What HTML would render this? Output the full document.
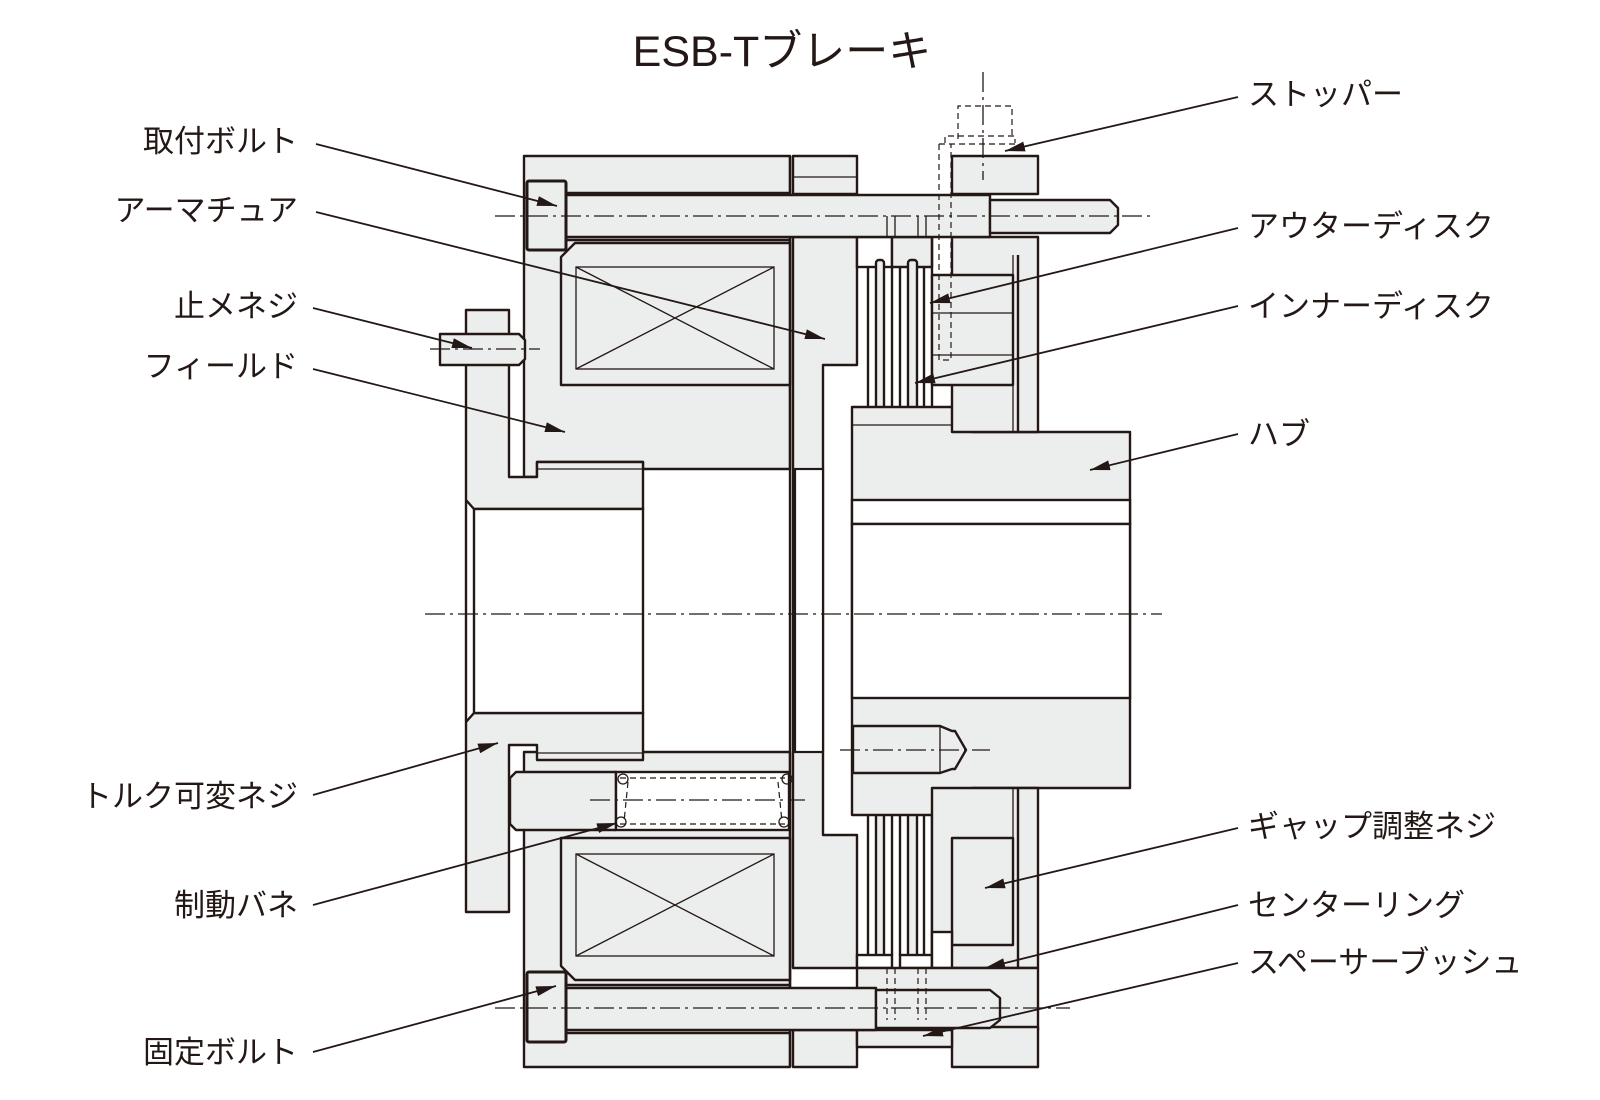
<!DOCTYPE html>
<html><head><meta charset="utf-8"><style>
html,body{margin:0;padding:0;background:#fff}
svg{display:block}
text{font-family:"Liberation Sans","Noto Sans CJK JP",sans-serif;fill:#231815}
.g{fill:#eceeed;stroke:#231815;stroke-width:2.4;stroke-linejoin:round}
.w{fill:#fff;stroke:#231815;stroke-width:2.4}
.t{fill:none;stroke:#231815;stroke-width:1.3}
.k{fill:none;stroke:#231815;stroke-width:2.4}
.c{fill:none;stroke:#231815;stroke-width:1.3;stroke-dasharray:20,5,3,5}
.d{fill:none;stroke:#231815;stroke-width:1.2;stroke-dasharray:6,4}
.l{fill:none;stroke:#231815;stroke-width:1.8}
</style></head><body>
<svg width="1600" height="1100" viewBox="0 0 1600 1100" xmlns="http://www.w3.org/2000/svg">
<defs><marker id="a" viewBox="0 0 20 10" refX="20" refY="5" markerWidth="20" markerHeight="10" markerUnits="userSpaceOnUse" orient="auto"><path d="M0,0L20,5L0,10z" fill="#231815"/></marker></defs>

<text x="782" y="66" font-size="43" text-anchor="middle">ESB-Tブレーキ</text>

<!-- field top -->
<polygon class="g" points="524,156 790,156 790,469 643,469 643,462 537,462 537,477 524,477"/>
<line class="k" x1="566" y1="193" x2="790" y2="193"/>
<line class="k" x1="566" y1="240" x2="790" y2="240"/>
<polygon class="g" points="575,243 790,243 790,385 561,385 561,257"/>
<rect class="t" x="576" y="267" width="198" height="102"/>
<line class="t" x1="576" y1="267" x2="774" y2="369"/><line class="t" x1="576" y1="369" x2="774" y2="267"/>
<!-- field bottom -->
<polygon class="g" points="524,752 790,752 790,1067 524,1067"/>
<line class="k" x1="566" y1="985" x2="790" y2="985"/>
<line class="k" x1="566" y1="1033" x2="790" y2="1033"/>
<polygon class="g" points="561,838 790,838 790,980 575,980 561,966"/>
<rect class="t" x="576" y="854" width="198" height="102"/>
<line class="t" x1="576" y1="854" x2="774" y2="956"/><line class="t" x1="576" y1="956" x2="774" y2="854"/>

<!-- torque plate -->
<polygon class="g" points="466,310 509,310 509,477 537,477 537,462 643,462 643,509 474,509 466,500 466,722 474,713 643,713 643,760 537,760 537,745 509,745 509,912 466,912"/>
<rect x="474" y="509" width="169" height="204" fill="#fff" stroke="#231815" stroke-width="2.4"/>
<line class="t" x1="537" y1="469" x2="643" y2="469"/>
<line class="t" x1="537" y1="753" x2="643" y2="753"/>
<!-- set screw -->
<path class="g" d="M440,334 H519 L525,340 V359 L519,365 H440 Z"/>
<!-- torque screw -->
<path class="g" d="M516,772 H616 V830 H516 L510,824 V778 Z"/>
<!-- spring -->
<rect class="w" x="616" y="772" width="173" height="58"/>
<line class="d" x1="620" y1="778" x2="785" y2="778"/><line class="d" x1="620" y1="824" x2="785" y2="824"/>
<line class="d" x1="628" y1="782" x2="624" y2="822"/><line class="d" x1="778" y1="782" x2="782" y2="822"/>
<circle class="t" cx="623" cy="779" r="5"/><circle class="t" cx="621" cy="822" r="5"/>
<circle class="t" cx="787" cy="779" r="5"/><circle class="t" cx="784" cy="822" r="5"/>

<!-- armature -->
<rect class="g" x="793" y="156" width="64" height="38"/>
<line class="t" x1="793" y1="177" x2="857" y2="177"/>
<polygon class="g" points="793,237 857,237 857,365 823,365 823,835 857,835 857,968 793,968"/>
<rect x="795" y="469" width="28" height="283" fill="#fff" stroke="#231815" stroke-width="2.2"/>
<line class="k" x1="790" y1="156" x2="790" y2="1067"/>
<rect class="g" x="793" y="1030" width="64" height="37"/>

<!-- discs top -->
<rect class="w" x="857" y="237" width="35" height="30"/>
<rect class="g" x="892" y="237" width="40" height="30"/>
<g class="k">
<line x1="868" y1="267" x2="868" y2="407"/><line x1="892" y1="267" x2="892" y2="407"/>
<line x1="900" y1="267" x2="900" y2="407"/><line x1="924" y1="267" x2="924" y2="407"/>
<line x1="932" y1="237" x2="932" y2="407"/>
</g>
<rect class="g" x="876" y="260" width="8" height="163" rx="3"/>
<rect class="g" x="908" y="260" width="9" height="163" rx="3"/>
<!-- discs bottom -->
<g class="k">
<line x1="868" y1="815" x2="868" y2="955"/><line x1="892" y1="815" x2="892" y2="955"/>
<line x1="900" y1="815" x2="900" y2="955"/><line x1="924" y1="815" x2="924" y2="955"/>
<line x1="932" y1="790" x2="932" y2="968"/>
</g>
<rect class="g" x="876" y="800" width="8" height="160" rx="3"/>
<rect class="g" x="908" y="800" width="9" height="160" rx="3"/>
<rect class="w" x="857" y="955" width="35" height="13"/><rect class="w" x="900" y="955" width="32" height="13"/>

<!-- hub -->
<polygon class="g" points="852,407 972,407 972,432 1130,432 1130,788 972,788 972,815 852,815"/>
<rect class="w" x="852" y="500" width="278" height="24"/>
<rect class="w" x="852" y="524" width="278" height="174"/>
<path class="g" d="M853,726 H940 L952,731 H955 L966,750 L955,769 H952 L940,773 H853 Z"/>
<line class="t" x1="940" y1="726" x2="940" y2="773"/>
<line class="t" x1="852" y1="425" x2="972" y2="425"/>

<!-- right side top -->
<rect class="g" x="952" y="237" width="86" height="195"/>
<rect class="g" x="932" y="275" width="81" height="110"/>
<line class="t" x1="932" y1="313" x2="1013" y2="313"/><line class="t" x1="932" y1="355" x2="1013" y2="355"/>
<line class="k" x1="1018" y1="255" x2="1018" y2="432"/><line class="t" x1="1013" y1="255" x2="1013" y2="432"/>
<rect class="g" x="952" y="156" width="86" height="38"/>
<!-- right side bottom -->
<rect class="g" x="932" y="788" width="106" height="180"/>
<rect class="g" x="952" y="838" width="61" height="107"/>
<rect class="w" x="932" y="932" width="20" height="36"/>
<line class="k" x1="1018" y1="788" x2="1018" y2="968"/><line class="t" x1="1013" y1="788" x2="1013" y2="945"/>
<rect class="g" x="857" y="968" width="181" height="62"/>
<rect class="g" x="952" y="1027" width="86" height="40"/>
<rect class="g" x="857" y="1030" width="95" height="17"/>

<!-- top bolt -->
<rect class="g" x="566" y="195" width="424" height="42"/>
<path class="g" d="M990,200 H1110 L1118,208 V225 L1110,233 H990 Z"/>
<rect class="g" x="527" y="181" width="39" height="69" rx="2" style="stroke-width:3"/>
<!-- bottom bolt -->
<rect class="g" x="566" y="988" width="310" height="42"/>
<path class="g" d="M876,990 H990 L1000,998 V1020 L990,1028 H876 Z"/>
<rect class="g" x="527" y="972" width="39" height="70" rx="2" style="stroke-width:3"/>
<g class="d"><line x1="887" y1="968" x2="887" y2="1020"/><line x1="895" y1="968" x2="895" y2="1020"/><line x1="918" y1="968" x2="918" y2="1020"/><line x1="926" y1="968" x2="926" y2="1020"/></g>
<g class="t"><line x1="887" y1="216" x2="887" y2="237"/><line x1="895" y1="216" x2="895" y2="237"/><line x1="918" y1="216" x2="918" y2="237"/><line x1="926" y1="216" x2="926" y2="237"/></g>

<!-- stopper ghost -->
<path class="d" d="M958,139 V106 H1012 V139 M945,143 V136 H1015 V143 M939,144 H1015 M939,144 V360 H951 V144"/>

<!-- centerlines -->
<line class="c" x1="425" y1="614" x2="1162" y2="614"/>
<line class="c" x1="495" y1="216" x2="1150" y2="216"/>
<line class="c" x1="495" y1="1008" x2="1070" y2="1008"/>
<line class="c" x1="430" y1="349" x2="540" y2="349"/>
<line class="c" x1="590" y1="800" x2="805" y2="800"/>
<line class="c" x1="840" y1="750" x2="990" y2="750"/>
<line class="c" x1="983" y1="72" x2="983" y2="180"/>

<!-- leaders -->
<g class="l" marker-end="url(#a)">
<line x1="316" y1="144" x2="557" y2="206"/>
<line x1="316" y1="212" x2="825" y2="339"/>
<line x1="313" y1="308" x2="472" y2="348"/>
<line x1="313" y1="369" x2="565" y2="432"/>
<line x1="313" y1="795" x2="498" y2="743"/>
<line x1="313" y1="905" x2="617" y2="823"/>
<line x1="313" y1="1052" x2="556" y2="986"/>
<line x1="1238" y1="97" x2="1005" y2="151"/>
<line x1="1238" y1="228" x2="930" y2="303"/>
<line x1="1238" y1="306" x2="915" y2="383"/>
<line x1="1238" y1="434" x2="1090" y2="470"/>
<line x1="1238" y1="828" x2="985" y2="888"/>
<line x1="1238" y1="905" x2="985" y2="968"/>
<line x1="1238" y1="963" x2="923" y2="1036"/>
</g>

<g font-size="31" text-anchor="end">
<text x="298" y="152">取付ボルト</text>
<text x="298" y="221">アーマチュア</text>
<text x="298" y="317">止メネジ</text>
<text x="298" y="377">フィールド</text>
<text x="298" y="807">トルク可変ネジ</text>
<text x="298" y="916">制動バネ</text>
<text x="298" y="1063">固定ボルト</text>
</g>
<g font-size="31">
<text x="1248" y="105">ストッパー</text>
<text x="1248" y="237">アウターディスク</text>
<text x="1248" y="317">インナーディスク</text>
<text x="1248" y="445">ハブ</text>
<text x="1248" y="837">ギャップ調整ネジ</text>
<text x="1248" y="916">センターリング</text>
<text x="1248" y="973">スペーサーブッシュ</text>
</g>
</svg>
</body></html>
